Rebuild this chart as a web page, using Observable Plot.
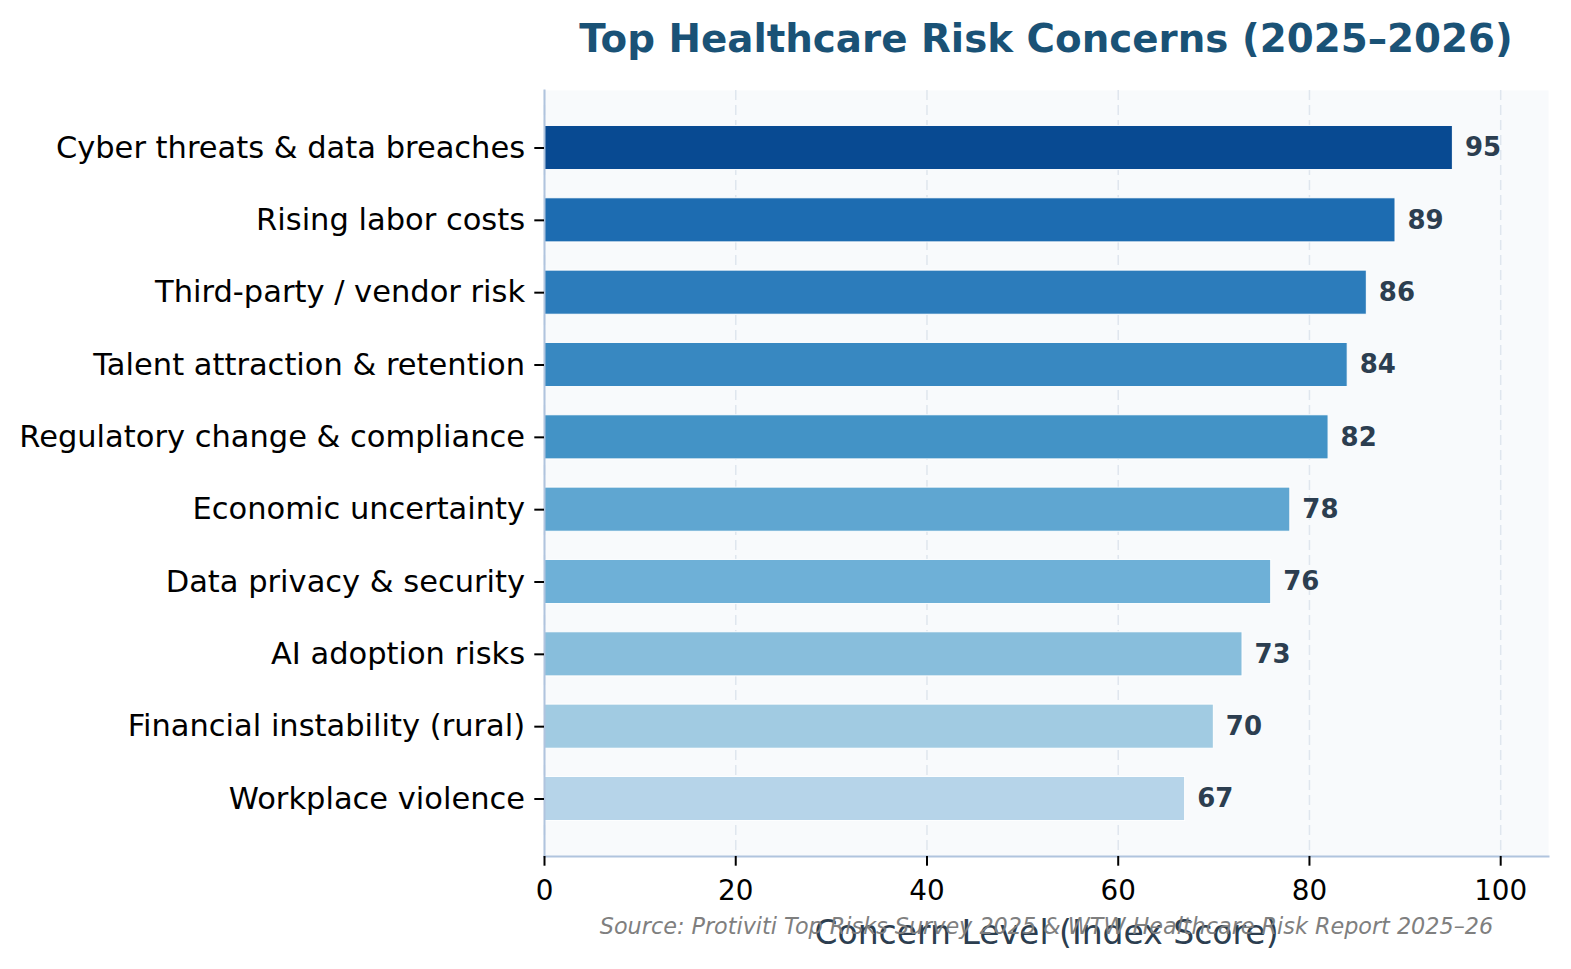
<!DOCTYPE html>
<html>
<head>
<meta charset="utf-8">
<script src="https://cdn.jsdelivr.net/npm/d3@7"></script>
<script src="https://cdn.jsdelivr.net/npm/@observablehq/plot@0.6"></script>
<style>
  html, body { margin: 0; padding: 0; background: #ffffff; }
  #wrap { width: 1571px; height: 969px; position: relative; font-family: "DejaVu Sans", sans-serif; }
  #title {
    margin-left: 544px; width: 1004px; height: 80px; line-height: 78px;
    text-align: center; font-weight: bold; font-size: 38.8px; color: #1a5276;
    white-space: nowrap;
  }
  #chart svg { display: block; }
</style>
</head>
<body>
<div id="wrap">
  <div id="title">Top Healthcare Risk Concerns (2025–2026)</div>
  <div id="chart"></div>
</div>
<script>
const categories = [
  "Cyber threats & data breaches",
  "Rising labor costs",
  "Third-party / vendor risk",
  "Talent attraction & retention",
  "Regulatory change & compliance",
  "Economic uncertainty",
  "Data privacy & security",
  "AI adoption risks",
  "Financial instability (rural)",
  "Workplace violence"
];
const values = [95, 89, 86, 84, 82, 78, 76, 73, 70, 67];
const xTicks = [0, 20, 40, 60, 80, 100];
const xLabel = "Concern Level (Index Score)";
const sourceNote = "Source: Protiviti Top Risks Survey 2025 & WTW Healthcare Risk Report 2025–26";

// ColorBrewer Blues (9-class), linearly interpolated in RGB
const bluesStops = ["#f7fbff","#deebf7","#c6dbef","#9ecae1","#6baed6","#4292c6","#2171b5","#08519c","#08306b"];
const blues = d3.piecewise(d3.interpolateRgb, bluesStops);

const data = categories.map((c, i) => ({category: c, value: values[i]}));

const chart = Plot.plot({
  width: 1571,
  height: 889,
  marginTop: 10,
  marginBottom: 113,
  marginLeft: 544,
  marginRight: 23,
  style: {fontFamily: "DejaVu Sans, sans-serif", background: "transparent", overflow: "visible"},
  x: {domain: [0, 105]},
  y: {domain: categories, paddingInner: 0.39, paddingOuter: 0.49, round: false},
  color: {type: "linear", domain: [d3.min(values), d3.max(values)], interpolate: t => blues(0.3 + 0.6 * t)},
  marks: [
    Plot.frame({fill: "#f8fafc", stroke: null}),
    Plot.gridX(xTicks, {stroke: "#dfe6ee", strokeOpacity: 1, strokeWidth: 1.5, strokeDasharray: "10,5"}),
    Plot.barX(data, {x: "value", y: "category", fill: "value", stroke: "white", strokeWidth: 1}),
    Plot.text(data, {x: "value", y: "category", text: d => String(d.value), dx: 12, textAnchor: "start",
      fontWeight: "bold", fontSize: 26, fill: "#2c3e50"}),
    Plot.frame({anchor: "left", stroke: "#b0c4de", strokeWidth: 2}),
    Plot.frame({anchor: "bottom", stroke: "#b0c4de", strokeWidth: 2}),
    Plot.axisY({tickSize: 9.7, tickPadding: 9.7, fontSize: 30.5, stroke: "#000", strokeWidth: 2, label: null, fill: "#000"}),
    Plot.axisX({ticks: xTicks, tickSize: 9.7, tickPadding: 14, fontSize: 27.8, stroke: "#000", strokeWidth: 2,
      label: null, fill: "#000", tickFormat: d => String(d)}),
    Plot.text([xLabel], {frameAnchor: "bottom", dy: 87, fontSize: 33, fill: "#2c3e50"}),
    Plot.text([sourceNote], {frameAnchor: "bottom", dy: 77, fontSize: 22.3, fontStyle: "italic", fill: "#7f7f7f"})
  ]
});
document.getElementById("chart").appendChild(chart);
</script>
</body>
</html>
